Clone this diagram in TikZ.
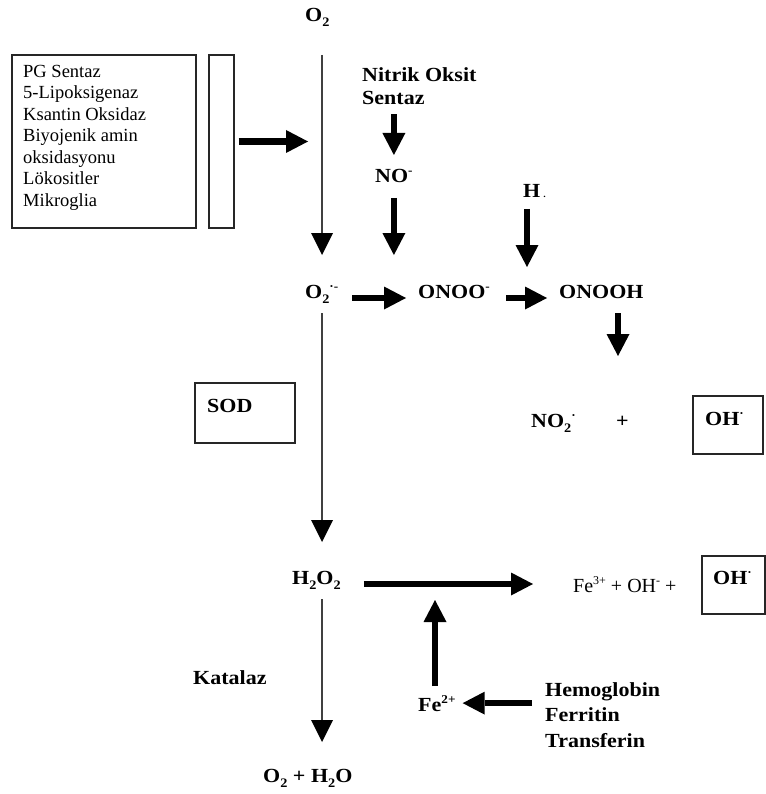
\documentclass[tikz,border=0pt]{standalone}
\usepackage{fontspec}
\setmainfont{Liberation Serif}[BoldFeatures={FakeStretch=1.1}]
\usetikzlibrary{arrows.meta}
\newcommand\chsub[1]{\raisebox{-5pt}{\fontsize{13}{13}\selectfont #1}}
\newcommand\chsup[1]{\raisebox{8pt}{\fontsize{12}{12}\selectfont #1}}

\begin{document}
\begin{tikzpicture}[x=1pt,y=-1pt,
      chem/.style={font=\fontsize{20}{23}\selectfont\bfseries,inner sep=0pt},
      plain/.style={font=\fontsize{18.5}{21.5}\selectfont,inner sep=0pt},
      frame/.style={draw=black!85,line width=1.4pt,inner sep=0pt},
      thinarr/.style={-{Triangle[length=22pt,width=22pt,line width=0pt,color=black]},
                      line width=1.3pt,draw=black!75},
      fatarr/.style={-{Triangle[length=22pt,width=23pt,line width=0pt]},
                     line width=6.5pt}]
    \useasboundingbox (0,0) rectangle (765,794);
    \coordinate (col) at (322,0);
    % sources
    \node[frame,minimum width=184pt,minimum height=173pt] (src) at (104,141.5) {};
    \node[plain,anchor=north west,align=left] (srctext) at (23,65)
      {PG Sentaz\\5-Lipoksigenaz\\Ksantin Oksidaz\\Biyojenik amin\\oksidasyonu\\L\"okositler\\Mikroglia};
    \node[frame,minimum width=25pt,minimum height=173pt] (bar) at (221.5,141.5) {};
    \coordinate (hitA) at (308,141.5);
    \draw[fatarr,shorten <=4pt] (bar.east) -- (hitA);
    % top row
    \node[chem,anchor=base west] (o2top) at (305,22) {O\chsub{2}};
    \node[chem,anchor=north west,align=left] (nos) at (362,67) {Nitrik Oksit\\Sentaz};
    \node[chem,anchor=base west] (no) at (375,183) {NO\chsup{-}};
    \node[chem,anchor=base west] (hion) at (523,198) {H\hspace{3pt}{\fontsize{9}{9}\selectfont.}};
    \coordinate (noend) at (393,255);
    \coordinate (hend) at (527,267);
    \draw[fatarr,shorten <=10pt,shorten >=28pt] (no.base |- nos.south) -- (no.base);
    \draw[fatarr,shorten <=15pt] (no.base) -- (no.base |- noend);
    \draw[fatarr,shorten <=11pt] (hend |- hion.base) -- (hend);
    % peroxynitrite row
    \node[chem,anchor=base west] (o2r) at (305,298) {O\chsub{2}\chsup{·-}};
    \node[chem,anchor=base west] (onoo) at (418,298) {ONOO\chsup{-}};
    \node[chem,anchor=base west] (onooh) at (559,298) {ONOOH};
    \coordinate (onoohend) at (618,356);
    \draw[thinarr,shorten <=33pt,shorten >=43pt] (o2top.base -| col) -- (o2r.base -| col);
    \draw[fatarr,shorten <=14pt,shorten >=12pt] (o2r.base east) -- (onoo.base west);
    \draw[fatarr,shorten <=16pt,shorten >=12pt] (onoo.base east) -- (onooh.base west);
    \draw[fatarr,shorten <=15pt] (onoohend |- onooh.base) -- (onoohend);
    % SOD and products
    \node[frame,minimum width=100pt,minimum height=60pt] (sodbox) at (245,413) {};
    \node[chem,anchor=base west] (sod) at (207,412) {SOD};
    \node[chem,anchor=base west] (no2) at (531,427) {NO\chsub{2}\chsup{·}};
    \node[chem,anchor=base west] (plus) at (616,427) {+};
    \node[frame,minimum width=70pt,minimum height=58pt] (ohboxA) at (728,425) {};
    \node[chem,anchor=base west] (ohA) at (705,425) {OH\chsup{·}};
    % Fenton row
    \node[chem,anchor=base west] (h2o2) at (292,584) {H\chsub{2}O\chsub{2}};
    \node[plain,anchor=base west,font=\fontsize{20}{23}\selectfont] (fe3) at (573,592)
      {Fe\chsup{3+} + OH\chsup{-} +};
    \node[frame,minimum width=63pt,minimum height=58pt] (ohboxB) at (733.5,585) {};
    \node[chem,anchor=base west] (ohB) at (713,584) {OH\chsup{·}};
    \coordinate (fe3in) at (533,584);
    \draw[thinarr,shorten <=15pt,shorten >=42pt] (o2r.base -| col) -- (h2o2.base -| col);
    \draw[fatarr,shorten <=23pt] (h2o2.base east) -- (fe3in);
    % iron sources
    \node[chem,anchor=base west] (kat) at (193,684) {Katalaz};
    \node[chem,anchor=base west] (fe2) at (418,711) {Fe\chsup{2+}};
    \node[chem,anchor=north west,align=left,font=\fontsize{20}{25.5}\selectfont\bfseries] (heme) at (545,682)
      {Hemoglobin\\Ferritin\\Transferin};
    \coordinate (fe2up) at (435,600);
    \draw[fatarr,shorten <=25pt] (fe2up |- fe2.base) -- (fe2up);
    \draw[fatarr,shorten <=13pt,shorten >=7pt] (heme.west |- fe2.east) -- (fe2.east);
    \node[chem,anchor=base west] (prod) at (263,782) {O\chsub{2} + H\chsub{2}O};
    \draw[thinarr,shorten <=15pt,shorten >=40pt] (h2o2.base -| col) -- (prod.base -| col);
  \end{tikzpicture}
\end{document}
